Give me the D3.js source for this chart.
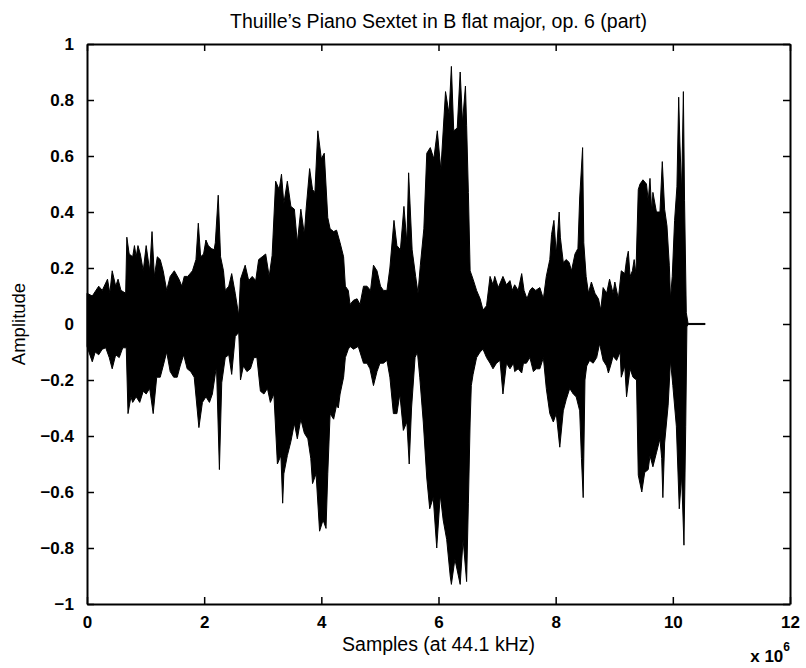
<!DOCTYPE html>
<html>
<head>
<meta charset="utf-8">
<script src="https://cdn.jsdelivr.net/npm/d3@7"></script>
<style>
  html, body { margin: 0; padding: 0; background: #fff; }
  svg { display: block; font-family: "Liberation Sans", Arial, Helvetica, sans-serif; }
</style>
</head>
<body>
<svg id="chart" width="806" height="668"></svg>
<script>
// ---- data (samples in units of 10^6, amplitude) ----
const titleText = "Thuille\u2019s Piano Sextet in B flat major, op. 6 (part)";
const xLabel = "Samples (at 44.1 kHz)";
const yLabel = "Amplitude";
const xTicks = [0, 2, 4, 6, 8, 10, 12];
const yTicks = [-1, -0.8, -0.6, -0.4, -0.2, 0, 0.2, 0.4, 0.6, 0.8, 1];

// upper envelope of the waveform [sample (x10^6), max amplitude]
const upperEnvelope = [
  [0,0.11],[0.09,0.10],[0.20,0.135],[0.26,0.12],[0.35,0.16],[0.39,0.11],[0.43,0.19],[0.49,0.135],[0.53,0.16],[0.58,0.12],
  [0.66,0.11],[0.68,0.31],[0.72,0.25],[0.78,0.24],[0.81,0.28],[0.84,0.24],[0.87,0.28],[0.91,0.25],[0.96,0.19],[1.01,0.28],
  [1.07,0.19],[1.11,0.33],[1.15,0.17],[1.20,0.24],[1.25,0.23],[1.30,0.19],[1.36,0.12],[1.42,0.17],[1.49,0.19],[1.57,0.16],
  [1.62,0.135],[1.66,0.17],[1.72,0.17],[1.80,0.19],[1.86,0.23],[1.90,0.36],[1.94,0.24],[1.99,0.25],[2.03,0.30],[2.07,0.28],
  [2.12,0.27],[2.17,0.265],[2.19,0.29],[2.24,0.46],[2.28,0.24],[2.33,0.19],[2.36,0.12],[2.42,0.135],[2.47,0.18],[2.53,0.11],
  [2.59,0.03],[2.62,0.16],[2.70,0.21],[2.76,0.155],[2.82,0.17],[2.88,0.155],[2.93,0.23],[2.99,0.24],[3.05,0.25],[3.11,0.17],
  [3.16,0.245],[3.22,0.51],[3.28,0.48],[3.32,0.535],[3.36,0.43],[3.42,0.51],[3.48,0.42],[3.54,0.41],[3.59,0.29],[3.65,0.41],
  [3.71,0.32],[3.74,0.41],[3.80,0.555],[3.85,0.48],[3.89,0.47],[3.94,0.69],[4.00,0.59],[4.05,0.61],[4.11,0.38],[4.15,0.34],
  [4.21,0.33],[4.26,0.335],[4.32,0.29],[4.38,0.24],[4.41,0.135],[4.46,0.12],[4.49,0.07],[4.55,0.085],[4.61,0.09],[4.66,0.07],
  [4.72,0.135],[4.78,0.135],[4.84,0.12],[4.89,0.21],[4.95,0.19],[5.01,0.135],[5.06,0.12],[5.12,0.12],[5.17,0.20],[5.24,0.37],
  [5.29,0.28],[5.35,0.265],[5.41,0.42],[5.46,0.29],[5.49,0.54],[5.55,0.265],[5.61,0.17],[5.65,0.11],[5.69,0.21],[5.75,0.34],
  [5.80,0.61],[5.86,0.63],[5.92,0.59],[5.98,0.69],[6.04,0.55],[6.12,0.83],[6.18,0.75],[6.22,0.92],[6.26,0.69],[6.32,0.70],
  [6.37,0.90],[6.41,0.72],[6.46,0.85],[6.48,0.71],[6.51,0.47],[6.54,0.19],[6.59,0.16],[6.65,0.12],[6.71,0.09],[6.76,0.05],
  [6.82,0.065],[6.88,0.17],[6.93,0.14],[6.96,0.17],[7.02,0.13],[7.10,0.17],[7.16,0.14],[7.22,0.155],[7.26,0.12],[7.30,0.14],
  [7.36,0.12],[7.42,0.18],[7.46,0.12],[7.51,0.09],[7.56,0.12],[7.60,0.13],[7.66,0.12],[7.73,0.13],[7.79,0.09],[7.84,0.17],
  [7.90,0.23],[7.93,0.32],[7.97,0.37],[8.01,0.25],[8.06,0.40],[8.08,0.31],[8.13,0.22],[8.18,0.23],[8.23,0.22],[8.27,0.19],
  [8.33,0.25],[8.38,0.27],[8.41,0.45],[8.46,0.63],[8.48,0.29],[8.52,0.17],[8.56,0.11],[8.61,0.15],[8.67,0.11],[8.73,0.09],
  [8.77,0.05],[8.81,0.13],[8.87,0.11],[8.92,0.16],[8.98,0.11],[9.01,0.15],[9.07,0.09],[9.12,0.19],[9.18,0.18],[9.21,0.23],
  [9.24,0.26],[9.27,0.17],[9.31,0.19],[9.34,0.23],[9.37,0.18],[9.41,0.48],[9.44,0.50],[9.49,0.515],[9.55,0.50],[9.58,0.44],
  [9.61,0.52],[9.64,0.40],[9.66,0.47],[9.72,0.40],[9.78,0.40],[9.82,0.58],[9.86,0.41],[9.90,0.35],[9.94,0.21],[9.96,0.09],
  [9.99,0.17],[10.03,0.37],[10.07,0.49],[10.10,0.81],[10.12,0.65],[10.15,0.47],[10.18,0.83],[10.20,0.44],[10.23,0.04],[10.26,0.002],
  [10.55,0.002]
];

// lower envelope of the waveform [sample (x10^6), min amplitude]
const lowerEnvelope = [
  [0,-0.08],[0.09,-0.135],[0.14,-0.10],[0.20,-0.11],[0.26,-0.09],[0.32,-0.085],[0.38,-0.12],[0.43,-0.16],[0.49,-0.11],[0.55,-0.12],
  [0.61,-0.085],[0.67,-0.085],[0.70,-0.32],[0.75,-0.26],[0.78,-0.28],[0.84,-0.26],[0.90,-0.28],[0.96,-0.24],[1.01,-0.25],[1.07,-0.23],
  [1.13,-0.32],[1.19,-0.19],[1.25,-0.19],[1.30,-0.15],[1.36,-0.10],[1.42,-0.17],[1.48,-0.19],[1.54,-0.19],[1.59,-0.15],[1.65,-0.11],
  [1.71,-0.16],[1.77,-0.17],[1.83,-0.19],[1.91,-0.37],[1.97,-0.28],[2.03,-0.26],[2.09,-0.28],[2.14,-0.25],[2.21,-0.15],[2.26,-0.52],
  [2.30,-0.21],[2.36,-0.12],[2.42,-0.11],[2.47,-0.18],[2.53,-0.045],[2.59,-0.03],[2.62,-0.20],[2.67,-0.15],[2.73,-0.17],[2.79,-0.16],
  [2.85,-0.12],[2.90,-0.12],[2.96,-0.24],[3.02,-0.25],[3.08,-0.23],[3.13,-0.28],[3.19,-0.25],[3.25,-0.50],[3.31,-0.47],[3.34,-0.64],
  [3.36,-0.535],[3.42,-0.47],[3.48,-0.42],[3.54,-0.355],[3.59,-0.41],[3.65,-0.34],[3.71,-0.39],[3.77,-0.41],[3.82,-0.48],[3.85,-0.57],
  [3.91,-0.535],[3.97,-0.74],[4.03,-0.70],[4.08,-0.73],[4.11,-0.535],[4.15,-0.32],[4.21,-0.34],[4.26,-0.29],[4.29,-0.30],[4.32,-0.25],
  [4.38,-0.19],[4.41,-0.12],[4.46,-0.09],[4.49,-0.08],[4.55,-0.09],[4.63,-0.08],[4.66,-0.10],[4.72,-0.14],[4.78,-0.14],[4.83,-0.16],
  [4.89,-0.22],[4.95,-0.17],[5.00,-0.14],[5.06,-0.14],[5.12,-0.13],[5.17,-0.19],[5.23,-0.32],[5.29,-0.32],[5.34,-0.25],[5.40,-0.38],
  [5.46,-0.35],[5.50,-0.50],[5.54,-0.30],[5.60,-0.12],[5.64,-0.10],[5.68,-0.19],[5.74,-0.35],[5.80,-0.55],[5.85,-0.66],[5.91,-0.62],
  [5.97,-0.80],[6.03,-0.61],[6.08,-0.70],[6.14,-0.77],[6.20,-0.90],[6.22,-0.93],[6.28,-0.84],[6.34,-0.90],[6.37,-0.93],[6.42,-0.77],
  [6.48,-0.92],[6.51,-0.64],[6.54,-0.35],[6.56,-0.22],[6.59,-0.18],[6.65,-0.12],[6.71,-0.10],[6.76,-0.09],[6.82,-0.12],[6.88,-0.14],
  [6.93,-0.16],[6.99,-0.14],[7.05,-0.13],[7.10,-0.25],[7.16,-0.14],[7.22,-0.16],[7.28,-0.14],[7.30,-0.17],[7.36,-0.16],[7.42,-0.175],
  [7.45,-0.14],[7.50,-0.14],[7.56,-0.12],[7.62,-0.17],[7.67,-0.16],[7.73,-0.16],[7.79,-0.12],[7.84,-0.23],[7.90,-0.32],[7.96,-0.35],
  [8.01,-0.32],[8.07,-0.44],[8.13,-0.31],[8.18,-0.27],[8.24,-0.23],[8.30,-0.25],[8.35,-0.26],[8.41,-0.31],[8.44,-0.48],[8.47,-0.62],
  [8.50,-0.20],[8.53,-0.15],[8.58,-0.13],[8.64,-0.14],[8.70,-0.12],[8.75,-0.07],[8.78,-0.10],[8.81,-0.13],[8.87,-0.15],[8.90,-0.175],
  [8.95,-0.14],[8.98,-0.115],[9.04,-0.13],[9.10,-0.10],[9.12,-0.19],[9.18,-0.15],[9.21,-0.26],[9.27,-0.16],[9.32,-0.19],[9.38,-0.20],
  [9.41,-0.54],[9.47,-0.60],[9.52,-0.53],[9.58,-0.52],[9.61,-0.47],[9.66,-0.51],[9.72,-0.46],[9.78,-0.41],[9.81,-0.48],[9.83,-0.62],
  [9.86,-0.425],[9.92,-0.29],[9.96,-0.13],[10.00,-0.22],[10.06,-0.365],[10.11,-0.66],[10.15,-0.54],[10.19,-0.79],[10.22,-0.365],[10.24,-0.01],
  [10.26,-0.002],[10.55,-0.002]
];

// ---- layout ----
const margin = { left: 87, right: 16, top: 44, bottom: 64 };
const W = 806, H = 668;
const svg = d3.select("#chart");

const x = d3.scaleLinear().domain([0, 12]).range([margin.left, W - margin.right]);
const y = d3.scaleLinear().domain([-1, 1]).range([H - margin.bottom, margin.top]);

// waveform (filled envelope)
const line = d3.line().x(d => x(d[0])).y(d => y(d[1]));
const poly = upperEnvelope.concat(lowerEnvelope.slice().reverse());
svg.append("path")
  .attr("d", line(poly) + "Z")
  .attr("fill", "#000")
  .attr("stroke", "#000")
  .attr("stroke-width", 1)
  .attr("stroke-linejoin", "miter");

// axes
const tickFmt = d3.format("");
const fontTick = 17;

const gx = svg.append("g")
  .attr("transform", `translate(0,${y(-1)})`)
  .call(d3.axisBottom(x).tickValues(xTicks).tickSizeInner(-7).tickSizeOuter(0).tickPadding(12).tickFormat(tickFmt));
const gxTop = svg.append("g")
  .attr("transform", `translate(0,${y(1)})`)
  .call(d3.axisTop(x).tickValues(xTicks).tickSizeInner(-7).tickSizeOuter(0).tickFormat(""));
const gy = svg.append("g")
  .attr("transform", `translate(${x(0)},0)`)
  .call(d3.axisLeft(y).tickValues(yTicks).tickSizeInner(-7).tickSizeOuter(0).tickPadding(13).tickFormat(tickFmt));
const gyRight = svg.append("g")
  .attr("transform", `translate(${x(12)},0)`)
  .call(d3.axisRight(y).tickValues(yTicks).tickSizeInner(-7).tickSizeOuter(0).tickFormat(""));

[gx, gxTop, gy, gyRight].forEach(g => {
  g.select(".domain").attr("stroke", "#000").attr("stroke-width", 2);
  g.selectAll(".tick line").attr("stroke", "#000").attr("stroke-width", 1.5);
  g.selectAll(".tick text")
    .attr("fill", "#000")
    .attr("font-family", "Liberation Sans, Arial, sans-serif")
    .attr("font-size", fontTick)
    .attr("font-weight", "bold");
});

// title
svg.append("text")
  .attr("x", (x(0) + x(12)) / 2)
  .attr("y", 28)
  .attr("text-anchor", "middle")
  .attr("font-size", 19.5)
  .attr("fill", "#000")
  .text(titleText);

// x label
svg.append("text")
  .attr("x", (x(0) + x(12)) / 2)
  .attr("y", 651)
  .attr("text-anchor", "middle")
  .attr("font-size", 19.5)
  .attr("fill", "#000")
  .text(xLabel);

// y label
svg.append("text")
  .attr("transform", `translate(25,${y(0)}) rotate(-90)`)
  .attr("text-anchor", "middle")
  .attr("font-size", 18.5)
  .attr("fill", "#000")
  .text(yLabel);

// exponent label "x 10^6"
const expo = svg.append("text")
  .attr("x", x(12))
  .attr("y", 662)
  .attr("text-anchor", "end")
  .attr("font-size", 17)
  .attr("font-weight", "bold")
  .attr("fill", "#000");
expo.append("tspan").text("x 10");
expo.append("tspan").attr("dy", -11).attr("font-size", 12).text("6");
</script>
</body>
</html>
